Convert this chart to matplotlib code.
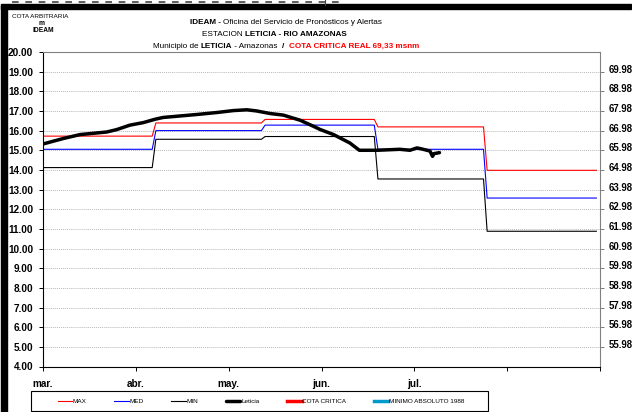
import matplotlib
matplotlib.use("Agg")
import matplotlib.pyplot as plt
from matplotlib.lines import Line2D
from matplotlib.patches import Rectangle
from matplotlib.transforms import ScaledTranslation

W, H = 632, 412
NARROW = ["Liberation Sans Narrow", "Liberation Sans", "DejaVu Sans"]
GRIS = "#808080"

# --- Niveles de referencia por mes (cota arbitraria, m) ---
meses = ["mar.", "abr.", "may.", "jun.", "jul."]
inicio_mes = [0, 31, 61, 92, 122]     # dia contado desde el 1 de marzo
fin_mes = [30, 60, 91, 121, 152]
nivel_max = [15.72, 16.39, 16.57, 16.19, 13.98]
nivel_med = [15.05, 16.00, 16.28, 15.05, 12.57]
nivel_min = [14.12, 15.56, 15.70, 13.54, 10.88]

# --- Nivel observado en Leticia ---
leticia_dia = [0.0, 5.6, 10.2, 17.5, 20.2, 23.9, 27.6, 30.8, 33.0, 42.2,
               47.7, 52.3, 56.0, 58.7, 62.4, 66.0, 70.6, 74.3, 76.1, 79.8,
               84.3, 86.9, 91.7, 98.0, 100.8, 102.7, 104.0, 106.3, 107.0,
               107.4, 108.9]
leticia_nivel = [15.32, 15.60, 15.80, 15.93, 16.05, 16.28, 16.41, 16.58,
                 16.67, 16.82, 16.92, 17.02, 17.06, 17.00, 16.87, 16.79,
                 16.53, 16.22, 16.06, 15.80, 15.37, 15.00, 15.00, 15.05,
                 15.00, 15.12, 15.07, 14.96, 14.69, 14.83, 14.88]

DIAS = 153
OFFSET_MSNM = 50.98


def fx(x):
    return x / W


def fy(y):
    return 1 - y / H


def escalones(valores):
    xs, ys = [], []
    for a, b, v in zip(inicio_mes, fin_mes, valores):
        xs += [a, b]
        ys += [v, v]
    return xs, ys


fig = plt.figure(figsize=(W / 100, H / 100), dpi=100)
fig.patch.set_facecolor("white")
ax = fig.add_axes([fx(43), fy(366.5), (600 - 43) / W, (366.5 - 52) / H])

l_max, = ax.plot(*escalones(nivel_max), color="#ff0000", lw=0.8)
l_med, = ax.plot(*escalones(nivel_med), color="#0000ff", lw=0.8)
l_min, = ax.plot(*escalones(nivel_min), color="black", lw=0.8)
l_let, = ax.plot(leticia_dia, leticia_nivel, color="black", lw=2.5,
                 solid_capstyle="round")

ax.set_xlim(0, DIAS)
ax.set_ylim(4, 20)
ax.set_yticks(range(4, 21))
ax.set_yticklabels([f"{v:.2f}" for v in range(4, 21)],
                   family=NARROW, fontsize=7.2, fontweight="bold")
xt = [i * DIAS / 6 for i in range(7)]
ax.set_xticks(xt)
ax.set_xticklabels(meses + ["", ""], family=NARROW, fontsize=7.2,
                   fontweight="bold")
desplaza = ScaledTranslation(-5 / 100, 0, fig.dpi_scale_trans)
for lbl in ax.get_xticklabels():
    lbl.set_transform(lbl.get_transform() + desplaza)
ax.tick_params(axis="y", length=3, pad=4, width=0.7)
ax.tick_params(axis="x", length=3, pad=6, width=0.7)

ax.yaxis.grid(True, color="#b8b8b8", linestyle=(0, (1, 1)), lw=0.7)
ax.set_axisbelow(True)
for lado in ("left", "bottom"):
    ax.spines[lado].set_color("black")
    ax.spines[lado].set_linewidth(0.8)
for lado in ("top", "right"):
    ax.spines[lado].set_color(GRIS)
    ax.spines[lado].set_linewidth(0.8)

# eje derecho en msnm
ax2 = ax.twinx()
ax2.set_ylim(4 + OFFSET_MSNM, 20 + OFFSET_MSNM)
t2 = [v + OFFSET_MSNM for v in range(5, 20)]
ax2.set_yticks(t2)
ax2.set_yticklabels([f"{v:.2f}" for v in t2], family=NARROW, fontsize=6.9,
                    fontweight="bold")
ax2.tick_params(axis="y", length=3, pad=3, width=0.7, color=GRIS)
sube = ScaledTranslation(0, 3 / 100, fig.dpi_scale_trans)
for lbl in ax2.get_yticklabels():
    lbl.set_transform(lbl.get_transform() + sube)
for lado in ("top", "right", "left", "bottom"):
    ax2.spines[lado].set_visible(False)


# --- Encabezado ---
def linea(x, y, partes, size=5.9):
    prev = fig.text(fx(x), fy(y), partes[0][0], ha="left", va="baseline",
                    family=NARROW, fontsize=size, fontweight=partes[0][1],
                    color=partes[0][2])
    for txt, peso, color in partes[1:]:
        prev = ax.annotate(txt, xy=(1, 0), xycoords=prev, ha="left",
                           va="bottom", family=NARROW, fontsize=size,
                           fontweight=peso, color=color,
                           annotation_clip=False)


linea(190, 24, [("IDEAM - ", "bold", "black"),
                ("Oficina del Servicio de Pronósticos y Alertas", "normal",
                 "black")])
linea(202, 36, [("ESTACION ", "normal", "black"),
                ("LETICIA - RIO AMAZONAS", "bold", "black")])
linea(153, 48, [("Municipio de ", "normal", "black"),
                ("LETICIA", "bold", "black"),
                (" - Amazonas  ", "normal", "black"),
                ("/  ", "bold", "black"),
                ("COTA CRITICA REAL 69,33 msnm", "bold", "#ff0000")])

fig.text(fx(40), fy(18), "COTA ARBITRARIA", ha="center", va="baseline",
         family=NARROW, fontsize=4.6)
fig.text(fx(42), fy(25), "m", ha="center", va="baseline", family=NARROW,
         fontsize=4.8, fontweight="bold")
fig.text(fx(43), fy(32), "IDEAM", ha="center", va="baseline", family=NARROW,
         fontsize=4.8, fontweight="bold")

# marco negro superior e izquierdo
fig.add_artist(Rectangle((fx(1), fy(9)), 630 / W, 4.5 / H, color="black",
                         transform=fig.transFigure))
fig.add_artist(Rectangle((fx(1), 0), 5.5 / W, fy(4.5), color="black",
                         transform=fig.transFigure))
fig.add_artist(Line2D([fx(12), fx(345)], [fy(1.6)] * 2, color="#444444",
                      lw=1.2, dashes=(4, 4), transform=fig.transFigure))
fig.add_artist(Line2D([fx(325)] * 2, [fy(0), fy(4.5)], color="#444444",
                      lw=0.8, transform=fig.transFigure))

# --- Leyenda ---
manejadores = [l_max, l_med, l_min, l_let,
               Line2D([], [], color="#ff0000", lw=2.5),
               Line2D([], [], color="#0099cc", lw=2.5)]
nombres = ["MAX", "MED", "MIN", "Leticia", "COTA CRITICA",
           "MINIMO ABSOLUTO 1988"]
fig.legend(manejadores, nombres, loc="center",
           bbox_to_anchor=(fx(261), fy(401)), ncol=6, frameon=False,
           prop={"family": NARROW, "size": 4.6}, handlelength=2.3,
           handletextpad=0.1, columnspacing=4.3)
fig.add_artist(Rectangle((fx(31), fy(411)), 457 / W, 20 / H, fill=False,
                         edgecolor="black", lw=0.8,
                         transform=fig.transFigure))

fig.savefig("out.png", dpi=100)
